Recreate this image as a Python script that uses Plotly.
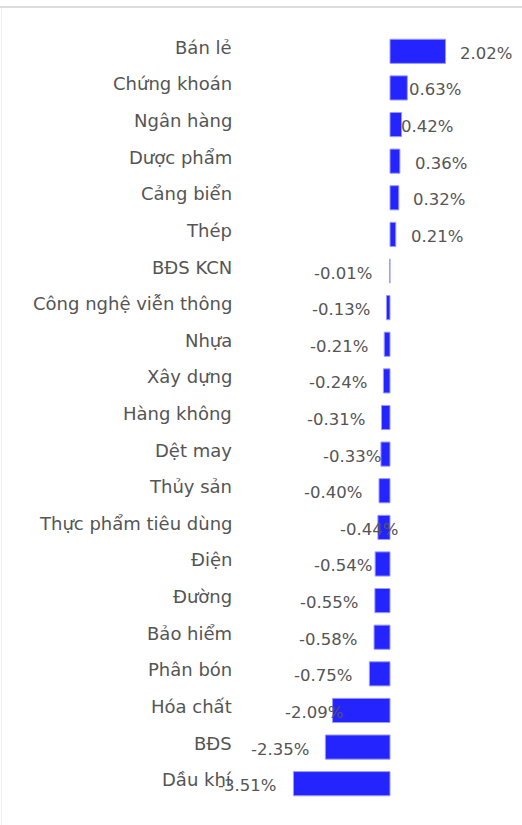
import plotly.graph_objects as go

# Biến động theo ngành (%)
sectors = [
    "Bán lẻ", "Chứng khoán", "Ngân hàng", "Dược phẩm", "Cảng biển", "Thép",
    "BĐS KCN", "Công nghệ viễn thông", "Nhựa", "Xây dựng", "Hàng không",
    "Dệt may", "Thủy sản", "Thực phẩm tiêu dùng", "Điện", "Đường",
    "Bảo hiểm", "Phân bón", "Hóa chất", "BĐS", "Dầu khí",
]
changes = [
    2.02, 0.63, 0.42, 0.36, 0.32, 0.21,
    -0.01, -0.13, -0.21, -0.24, -0.31,
    -0.33, -0.40, -0.44, -0.54, -0.55,
    -0.58, -0.75, -2.09, -2.35, -3.51,
]

BAR_COLOR = "#2424ff"
TEXT_COLOR = "#555555"
FONT = "DejaVu Sans"

# khoảng cách nhãn giá trị so với đầu cột (px); một số nhãn nằm sát cột
label_gap = [12, 0, -3, 13, 12, 13,
             16, 14, 14, 14, 14,
             -2, 15, -22, 1, 15,
             15, 15, -12, 14, 15]

fig = go.Figure(go.Bar(
    x=changes,
    y=sectors,
    orientation="h",
    marker=dict(color=BAR_COLOR, line=dict(width=1, color="#9a9aff")),
    hoverinfo="x+y",
))

# nhãn ngành (bên trái)
for name in sectors:
    fig.add_annotation(
        x=0, xref="paper", y=name,
        text=name,
        showarrow=False,
        xanchor="right",
        xshift=-4,
        yshift=4,
        font=dict(family=FONT, size=18, color=TEXT_COLOR),
    )

# nhãn giá trị
for name, val, gap in zip(sectors, changes, label_gap):
    fig.add_annotation(
        x=val, y=name,
        text=f"{val:.2f}%",
        showarrow=False,
        xanchor="left" if val >= 0 else "right",
        xshift=gap if val >= 0 else -gap,
        yshift=-2,
        font=dict(family=FONT, size=16.5, color=TEXT_COLOR),
    )

# khung viền trên và trái
fig.add_shape(type="line", xref="paper", yref="paper",
              x0=-0.9, x1=1.1, y0=1.0338, y1=1.0338,
              line=dict(color="#dcdcdc", width=2))
fig.add_shape(type="line", xref="paper", yref="paper",
              x0=-0.854, x1=-0.854, y0=1.032, y1=-0.05,
              line=dict(color="#efefef", width=1))

fig.update_layout(
    width=522,
    height=825,
    margin=dict(l=238, r=7, t=33, b=23),
    plot_bgcolor="white",
    paper_bgcolor="white",
    showlegend=False,
    bargap=0.34,
    font=dict(family=FONT, size=16, color=TEXT_COLOR),
    xaxis=dict(range=[-5.527, 4.545], showgrid=False, zeroline=False,
               showticklabels=False, fixedrange=True),
    yaxis=dict(autorange="reversed", showgrid=False, zeroline=False,
               showticklabels=False, ticks="", fixedrange=True),
)

fig.write_html("out.html", config={"displayModeBar": False},
               post_script="document.body.style.margin='0';")
